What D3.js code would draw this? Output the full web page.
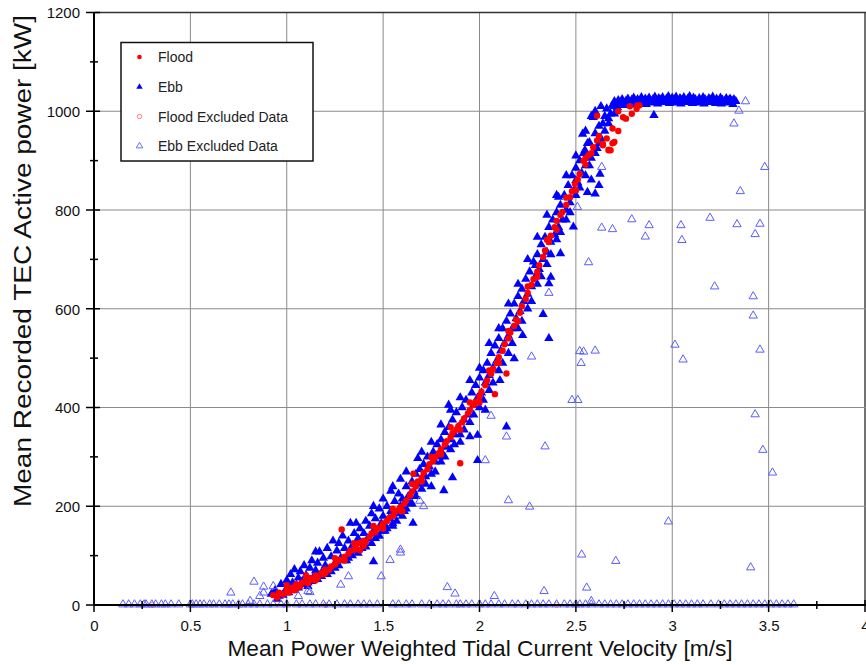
<!DOCTYPE html>
<html>
<head>
<meta charset="utf-8">
<script src="https://cdn.jsdelivr.net/npm/d3@7/dist/d3.min.js"></script>
<style>
html,body{margin:0;padding:0;background:#fff;}
svg{display:block;font-family:"Liberation Sans",Arial,sans-serif;}
</style>
</head>
<body>
<svg id="chart" width="866" height="665"></svg>
<script>
// ---------- DATA ----------
const xTicks = [0, 0.5, 1, 1.5, 2, 2.5, 3, 3.5, 4];
const xTickLabels = ["0", "0.5", "1", "1.5", "2", "2.5", "3", "3.5", "4"];
const xMinorTicks = [0.25, 0.75, 1.25, 1.75, 2.25, 2.75, 3.25, 3.75];
const yTicks = [0, 200, 400, 600, 800, 1000, 1200];
const yTickLabels = ["0", "200", "400", "600", "800", "1000", "1200"];
const yMinorTicks = [100, 300, 500, 700, 900, 1100];
const xTitle = "Mean Power Weighted Tidal Current Velocity [m/s]";
const yTitle = "Mean Recorded TEC Active power [kW]";
const legendLabels = ["Flood", "Ebb", "Flood Excluded Data", "Ebb Excluded Data"];

// Ebb (filled triangles) [velocity, kW]
const ebb = [
[0.92,22],[0.94,30],[0.96,18],[0.97,42],[0.99,28],[1.0,50],[1.01,38],[1.02,62],[1.03,45],[1.04,72],[1.05,40],[1.06,55],[1.07,68],[1.08,48],[1.09,80],[1.1,60],[1.11,45],[1.12,75],[1.13,90],[1.14,58],[1.15,108],[1.15,70],[1.16,85],[1.17,108],[1.18,65],[1.19,95],[1.2,80],[1.21,115],[1.22,70],[1.23,98],[1.24,130],[1.25,85],[1.26,110],[1.27,125],[1.28,95],[1.29,140],[1.3,115],[1.31,90],[1.32,130],[1.33,166],[1.34,120],[1.35,145],[1.36,166],[1.36,110],[1.37,135],[1.38,155],[1.39,125],[1.4,145],[1.41,170],[1.42,135],[1.43,160],[1.44,185],[1.45,88],[1.45,150],[1.46,175],[1.47,140],[1.48,195],[1.49,165],[1.5,180],[1.51,150],[1.52,200],[1.53,175],[1.54,231],[1.54,190],[1.55,165],[1.56,210],[1.57,185],[1.58,225],[1.59,255],[1.59,200],[1.6,215],[1.61,190],[1.62,240],[1.63,220],[1.64,205],[1.65,250],[1.655,166],[1.66,230],[1.67,265],[1.68,297],[1.68,245],[1.69,275],[1.7,250],[1.71,285],[1.72,260],[1.73,300],[1.74,280],[1.75,240],[1.76,310],[1.77,290],[1.78,325],[1.79,300],[1.8,335],[1.81,305],[1.815,232],[1.82,350],[1.83,320],[1.84,405],[1.84,360],[1.85,335],[1.86,258],[1.86,375],[1.87,345],[1.88,390],[1.89,360],[1.9,330],[1.91,400],[1.92,375],[1.93,415],[1.94,385],[1.95,341],[1.96,430],[1.97,405],[1.98,445],[1.99,293],[1.99,344],[1.99,420],[2.0,460],[2.01,430],[2.02,475],[2.03,395],[2.03,450],[2.04,490],[2.05,465],[2.06,510],[2.07,480],[2.08,525],[2.09,495],[2.1,540],[2.106,455],[2.11,515],[2.12,560],[2.13,530],[2.14,361],[2.14,575],[2.15,545],[2.16,590],[2.17,560],[2.18,499],[2.18,610],[2.19,580],[2.2,625],[2.21,595],[2.22,640],[2.224,546],[2.23,615],[2.24,660],[2.25,630],[2.26,675],[2.27,645],[2.28,695],[2.29,688],[2.29,665],[2.3,710],[2.31,680],[2.32,730],[2.33,589],[2.33,700],[2.34,745],[2.35,715],[2.36,540],[2.36,651],[2.36,765],[2.37,664],[2.37,735],[2.38,780],[2.39,750],[2.4,795],[2.41,826],[2.41,765],[2.42,712],[2.42,810],[2.43,780],[2.44,830],[2.45,800],[2.46,850],[2.47,815],[2.48,870],[2.487,766],[2.49,840],[2.5,860],[2.5,885],[2.51,855],[2.52,900],[2.53,875],[2.535,954],[2.54,915],[2.547,921],[2.55,890],[2.56,836],[2.56,935],[2.57,937],[2.58,861],[2.58,905],[2.59,988],[2.6,833],[2.6,955],[2.61,925],[2.62,850],[2.62,970],[2.625,873],[2.63,945],[2.64,975],[2.65,990],[2.66,1005],[2.67,985],[2.68,995],[2.69,1012],[2.70,1010],[2.737,1020],[2.905,992],
[0.95,12],[0.98,20],[1.01,25],[1.04,30],[1.06,35],[1.09,42],[1.11,38],[1.13,48],[1.16,52],[1.18,58],[1.21,62],[1.23,68],[1.25,75],[1.27,80],[1.3,90],[1.32,95],[1.34,100],[1.37,105],[1.39,115],[1.41,118],[1.44,125],[1.46,135],[1.48,140],[1.5,150],[1.52,155],[1.55,160],[1.57,170],[1.6,180],[1.62,195],[1.65,205],[1.67,220],[1.7,235],[1.72,245],[1.75,265],[1.77,270],[1.8,290],[1.82,300],[1.85,315],[1.87,325],[1.9,345],[1.92,355],[1.95,370],[1.97,385],[2.0,400],[2.02,415],[2.05,435],[2.07,450],[2.1,475],[2.12,490],[2.15,510],[2.17,530],[2.2,560],[2.22,575],[2.25,600],[2.27,615],[2.3,650],[2.32,665],[2.35,690],[2.37,710],[2.4,740],[2.42,755],[2.45,780],[2.47,795],[2.5,830],[2.52,845],[2.55,870],[2.57,890],[2.6,915],[2.62,935],[2.65,960],[2.67,975],[2.7,995],
[1.45,200],[1.5,215],[1.55,240],[1.62,270],[1.7,310],[1.75,330],[1.8,365],[1.85,395],[1.9,420],[1.95,455],[2.0,480],[2.05,530],[2.1,560],[2.15,610],[2.2,650],[2.25,700],[2.3,745],[2.35,790],[2.4,830],[2.45,870],[2.5,910],[2.55,960],[2.58,990],[2.6,1000],[2.63,1010],
[2.69,1012],[2.70,1020],[2.71,1015],[2.72,1022],[2.73,1018],[2.74,1024],[2.75,1016],[2.76,1021],[2.77,1025],[2.78,1018],[2.79,1023],[2.80,1027],[2.81,1019],[2.82,1024],[2.83,1021],[2.84,1028],[2.85,1020],[2.86,1025],[2.87,1022],[2.88,1027],[2.89,1019],[2.90,1024],[2.91,1029],[2.92,1021],[2.93,1026],[2.94,1023],[2.95,1028],[2.96,1020],[2.97,1025],[2.98,1030],[2.99,1022],[3.00,1027],[3.01,1024],[3.02,1029],[3.03,1021],[3.04,1026],[3.05,1023],[3.06,1028],[3.07,1020],[3.08,1025],[3.09,1030],[3.10,1022],[3.11,1027],[3.12,1024],[3.13,1019],[3.14,1026],[3.15,1022],[3.16,1028],[3.17,1024],[3.18,1020],[3.19,1026],[3.20,1023],[3.21,1029],[3.22,1021],[3.23,1025],[3.24,1019],[3.25,1027],[3.26,1023],[3.27,1020],[3.28,1026],[3.29,1022],[3.30,1025],[3.31,1021],[3.32,1024],[3.33,1020],
[2.715,1008],[2.745,1012],[2.775,1014],[2.805,1013],[2.835,1016],[2.865,1014],[2.895,1017],[2.925,1015],[2.955,1018],[2.985,1016],[3.015,1017],[3.045,1015],[3.075,1018],[3.105,1016],[3.135,1017],[3.165,1015],[3.195,1018],[3.225,1016],[3.255,1015],[3.285,1017],[3.315,1014]
];

// Flood (filled dots)
const flood = [
[0.93,20],[0.95,15],[0.96,25],[0.98,22],[1.0,30],[1.01,25],[1.03,35],[1.04,30],[1.05,42],[1.07,38],[1.08,45],[1.1,50],[1.11,44],[1.12,55],[1.13,51],[1.15,60],[1.16,55],[1.18,65],[1.19,62],[1.2,72],[1.22,71],[1.23,78],[1.25,82],[1.26,88],[1.285,153],[1.28,92],[1.29,91],[1.3,98],[1.32,104],[1.33,110],[1.35,112],[1.36,120],[1.38,111],[1.38,126],[1.4,130],[1.41,128],[1.43,138],[1.44,145],[1.46,148],[1.47,155],[1.49,158],[1.5,165],[1.52,170],[1.53,176],[1.55,180],[1.56,188],[1.58,192],[1.59,198],[1.61,205],[1.62,212],[1.64,222],[1.65,230],[1.657,266],[1.67,240],[1.68,250],[1.7,258],[1.71,268],[1.73,275],[1.74,285],[1.76,292],[1.77,300],[1.79,308],[1.8,315],[1.82,325],[1.83,332],[1.85,340],[1.86,348],[1.88,355],[1.89,362],[1.9,287],[1.91,370],[1.92,378],[1.94,388],[1.95,395],[1.97,405],[1.98,412],[2.0,422],[2.01,432],[2.03,445],[2.04,455],[2.06,468],[2.07,478],[2.08,427],[2.09,490],[2.1,502],[2.12,515],[2.13,528],[2.14,469],[2.15,540],[2.16,552],[2.18,565],[2.19,578],[2.21,592],[2.22,605],[2.24,620],[2.25,632],[2.27,648],[2.28,660],[2.3,675],[2.31,688],[2.33,705],[2.34,718],[2.36,735],[2.37,748],[2.39,765],[2.4,778],[2.42,790],[2.43,796],[2.45,810],[2.47,826],[2.48,838],[2.495,853],[2.51,862],[2.52,873],[2.54,900],[2.55,892],[2.565,911],[2.59,927],[2.61,941],[2.64,934],[2.64,931],[2.67,921],[2.67,922],[2.68,921],[2.69,935],[2.695,936],[2.69,965],[2.70,938],[2.61,991],[2.745,988],[2.79,995],[2.815,1005],[2.83,1012],[2.82,1012],
[1.0,40],[1.05,32],[1.1,60],[1.15,50],[1.2,65],[1.25,95],[1.3,90],[1.35,125],[1.4,120],[1.45,160],[1.5,155],[1.55,195],[1.6,190],[1.65,245],[1.7,250],[1.75,300],[1.8,305],[1.85,360],[1.9,355],[1.95,410],[2.0,410],[2.05,475],[2.1,490],[2.15,555],[2.2,575],[2.25,645],[2.3,665],[2.35,740],[2.4,760],[2.45,825],[2.5,840],[2.55,905],[2.58,915],[2.62,950],[2.66,945],[2.72,960],[2.76,985],[2.72,1000],[2.78,1010]
];

// Flood excluded (open circles)
const floodExcluded = [[0.3,0],[1.2,0],[2.4,0]];

// Ebb excluded (open triangles)
const ebbExcluded = [
[0.71,24],[0.83,46],[0.86,17],[0.88,24],[0.88,36],[0.93,37],[1.06,17],[1.11,27],[1.12,25],[1.28,40],[1.32,57],[1.49,57],[1.536,90],[1.59,111],[1.59,105],[1.69,210],[1.71,199],[1.833,35],[1.873,22],[2.03,292],[2.06,382],[2.077,17],[2.14,340],[2.15,211],[2.26,198],[2.27,502],[2.335,27],[2.34,320],[2.36,631],[2.48,414],[2.51,414],[2.508,805],[2.52,513],[2.527,489],[2.53,101],[2.54,512],[2.556,34],[2.566,693],[2.58,7],[2.60,514],[2.634,886],[2.634,763],[2.69,760],[2.707,88],[2.79,780],[2.86,745],[2.88,768],[2.98,168],[3.014,526],[3.045,768],[3.05,738],[3.056,496],[3.196,783],[3.22,644],[3.32,974],[3.336,770],[3.346,1000],[3.353,837],[3.38,1019],[3.407,75],[3.42,624],[3.42,585],[3.43,750],[3.43,385],[3.455,771],[3.455,516],[3.47,313],[3.48,886],[3.52,267],
[0.15,0],[0.18,0],[0.21,0],[0.24,0],[0.26,0],[0.27,0],[0.3,0],[0.32,0],[0.35,0],[0.37,0],[0.4,0],[0.44,0],[0.5,0],[0.51,0],[0.53,0],[0.55,0],[0.57,0],[0.6,0],[0.62,0],[0.65,0],[0.68,0],[0.7,0],[0.72,0],[0.75,0],[0.77,0],[0.8,0],[0.81,7],[0.83,0],[0.86,0],[0.9,0],[0.93,0],[0.97,0],[1.0,0],[1.05,0],[1.08,0],[1.12,0],[1.15,0],[1.19,0],[1.22,0],[1.26,0],[1.3,0],[1.33,0],[1.37,0],[1.4,0],[1.43,0],[1.47,0],[1.55,0],[1.58,0],[1.62,0],[1.65,0],[1.7,0],[1.74,0],[1.78,0],[1.81,0],[1.84,0],[1.88,0],[1.9,0],[1.93,0],[1.96,0],[2.0,0],[2.03,0],[2.06,0],[2.1,0],[2.13,0],[2.17,0],[2.2,0],[2.24,0],[2.27,0],[2.3,0],[2.33,0],[2.36,0],[2.4,0],[2.44,0],[2.47,0],[2.5,0],[2.52,0],[2.55,0],[2.58,0],[2.62,0],[2.65,0],[2.68,0],[2.71,0],[2.74,0],[2.77,0],[2.8,0],[2.83,0],[2.86,0],[2.89,0],[2.92,0],[2.95,0],[2.98,0],[3.01,0],[3.04,0],[3.07,0],[3.1,0],[3.13,0],[3.16,0],[3.2,0],[3.24,0],[3.27,0],[3.3,0],[3.33,0],[3.36,0],[3.39,0],[3.42,0],[3.45,0],[3.48,0],[3.51,0],[3.54,0],[3.57,0],[3.6,0],[3.63,0]
];

// ---------- CHART ----------
const svg = d3.select("#chart");
const x = d3.scaleLinear().domain([0, 4]).range([94, 865]);
const y = d3.scaleLinear().domain([0, 1200]).range([605, 12.5]);

const grid = svg.append("g");
grid.selectAll("line.vx").data(xTicks.slice(1)).join("line")
  .attr("x1", d => x(d)).attr("x2", d => x(d)).attr("y1", y(0)).attr("y2", y(1200))
  .attr("stroke", d => d === 4 ? "#444" : "#8a8a8a").attr("stroke-width", d => d === 4 ? 1.5 : 1);
grid.selectAll("line.hy").data(yTicks.slice(1)).join("line")
  .attr("x1", x(0)).attr("x2", 866).attr("y1", d => y(d)).attr("y2", d => y(d))
  .attr("stroke", d => d === 1200 ? "#333" : "#8a8a8a").attr("stroke-width", d => d === 1200 ? 1.5 : 1);

// Axes
const fmtX = d => xTickLabels[xTicks.indexOf(d)];
const fmtY = d => yTickLabels[yTicks.indexOf(d)];
const xAxis = svg.append("g").attr("transform", `translate(0,${y(0)})`)
  .call(d3.axisBottom(x).tickValues(xTicks).tickFormat(fmtX).tickSize(0).tickPadding(15));
const yAxis = svg.append("g").attr("transform", `translate(${x(0)},0)`)
  .call(d3.axisLeft(y).tickValues(yTicks).tickFormat(fmtY).tickSize(0).tickPadding(14));
[xAxis, yAxis].forEach(a => {
  a.select(".domain").remove();
  a.selectAll("text").attr("font-size", 15).attr("fill", "#111")
    .attr("font-family", "'Liberation Sans', Arial, sans-serif");
});
yAxis.selectAll("text").attr("dy", "0.36em");

// Points
const triangle = d3.symbol().type(d3.symbolTriangle).size(38);
const triOpen = d3.symbol().type(d3.symbolTriangle).size(30);
const pts = svg.append("g");
pts.selectAll("path.ebb").data(ebb).join("path")
  .attr("d", triangle).attr("transform", d => `translate(${x(d[0])},${y(d[1])})`)
  .attr("fill", "#0000ff");
pts.selectAll("circle.flood").data(flood).join("circle")
  .attr("cx", d => x(d[0])).attr("cy", d => y(d[1])).attr("r", 3.2)
  .attr("fill", "#ff0000");
pts.selectAll("circle.fex").data(floodExcluded).join("circle")
  .attr("cx", d => x(d[0])).attr("cy", d => y(d[1])).attr("r", 2.5)
  .attr("fill", "none").attr("stroke", "#ff7070").attr("stroke-width", 0.9);
pts.selectAll("path.eex").data(ebbExcluded).join("path")
  .attr("d", triOpen).attr("transform", d => `translate(${x(d[0])},${y(d[1]) - 0.5})`)
  .attr("fill", "none").attr("stroke", "#5c5cff").attr("stroke-width", 1);

// Axis lines and tick marks
const axes = svg.append("g").attr("stroke", "#000");
axes.append("line").attr("x1", x(0)).attr("x2", x(0)).attr("y1", y(1200)).attr("y2", y(0)).attr("stroke-width", 2);
axes.append("line").attr("x1", x(0)).attr("x2", 866).attr("y1", y(0)).attr("y2", y(0)).attr("stroke-width", 2);
axes.selectAll("line.xt").data(xTicks).join("line")
  .attr("x1", d => x(d)).attr("x2", d => x(d)).attr("y1", y(0) - 5).attr("y2", y(0) + 7).attr("stroke-width", 1.5);
axes.selectAll("line.xm").data(xMinorTicks).join("line")
  .attr("x1", d => x(d)).attr("x2", d => x(d)).attr("y1", y(0) - 4).attr("y2", y(0) + 4).attr("stroke-width", 1.5);
axes.selectAll("line.yt").data(yTicks).join("line")
  .attr("x1", x(0) - 8).attr("x2", x(0) + 6).attr("y1", d => y(d)).attr("y2", d => y(d)).attr("stroke-width", 1.5);
axes.selectAll("line.ym").data(yMinorTicks).join("line")
  .attr("x1", x(0) - 4).attr("x2", x(0) + 4).attr("y1", d => y(d)).attr("y2", d => y(d)).attr("stroke-width", 1.5);

// Titles
svg.append("text").attr("x", 480).attr("y", 656).attr("text-anchor", "middle")
  .attr("font-size", 22.7).attr("fill", "#111").text(xTitle);
svg.append("text").attr("transform", "translate(31,261) rotate(-90)").attr("text-anchor", "middle")
  .attr("font-size", 23).attr("fill", "#111")
  .attr("textLength", 492).attr("lengthAdjust", "spacingAndGlyphs").text(yTitle);

// Legend
const lg = svg.append("g");
lg.append("rect").attr("x", 121).attr("y", 42.5).attr("width", 192).attr("height", 118.5)
  .attr("fill", "#fff").attr("stroke", "#111").attr("stroke-width", 1.5);
const rowsY = [57, 87, 116.5, 146];
lg.append("circle").attr("cx", 139.5).attr("cy", rowsY[0]).attr("r", 2.3).attr("fill", "#ff0000");
lg.append("path").attr("d", d3.symbol().type(d3.symbolTriangle).size(18))
  .attr("transform", `translate(139.5,${rowsY[1]})`).attr("fill", "#0000ff");
lg.append("circle").attr("cx", 139.5).attr("cy", rowsY[2]).attr("r", 2.2)
  .attr("fill", "none").attr("stroke", "#ff7070").attr("stroke-width", 0.9);
lg.append("path").attr("d", d3.symbol().type(d3.symbolTriangle).size(18))
  .attr("transform", `translate(139.5,${rowsY[3]})`).attr("fill", "none")
  .attr("stroke", "#5c5cff").attr("stroke-width", 0.9);
lg.selectAll("text").data(legendLabels).join("text")
  .attr("x", 158).attr("y", (d, i) => rowsY[i]).attr("dy", "0.36em")
  .attr("font-size", 14).attr("fill", "#222").text(d => d);
</script>
</body>
</html>
